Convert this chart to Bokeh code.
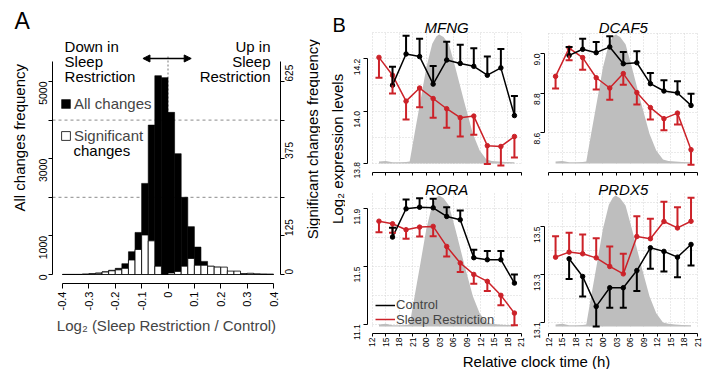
import math
from bokeh.plotting import figure
from bokeh.models import (Range1d, LinearAxis, FixedTicker, Span, Label, Arrow,
                          NormalHead, TeeHead, Whisker, ColumnDataSource, Legend, LegendItem)
from bokeh.layouts import row, column
from bokeh.embed import file_html
from bokeh.resources import INLINE

FONT = "Liberation Sans"
RED = "#CC2229"
GREY = "#BEBEBE"
GRID = "#D5D5D5"

# ---------------- Panel A data ----------------
bin_left = [-0.400, -0.375, -0.350, -0.325, -0.300, -0.275, -0.250, -0.225,
            -0.200, -0.175, -0.150, -0.125, -0.100, -0.075, -0.050, -0.025,
            0.000, 0.025, 0.050, 0.075, 0.100, 0.125, 0.150, 0.175,
            0.200, 0.225, 0.250, 0.275, 0.300, 0.325, 0.350, 0.375]
BIN_W = 0.025
all_changes = [5, 5, 5, 10, 20, 40, 70, 110, 160, 280, 590, 1090, 2360, 3870, 5150, 5100,
               4200, 3130, 2000, 1240, 710, 340, 210, 190, 110, 70, 35, 20, 20, 10, 10, 5]
significant_changes = [0, 0, 0, 1, 2, 4, 8, 12, 15, 20, 47, 81, 128, 109, 27, 0,
                       5, 10, 27, 52, 30, 30, 27, 24, 24, 11, 11, 2, 4, 2, 1, 1]
a_x_ticks = [-0.4, -0.3, -0.2, -0.1, 0.0, 0.1, 0.2, 0.3, 0.4]
a_x_labels = ["-0.4", "-0.3", "-0.2", "-0.1", "0", "0.1", "0.2", "0.3", "0.4"]
a_left_ticks = [0, 1000, 3000, 5000]
a_left_minor = [2000, 4000]
a_right_ticks = [0, 125, 375, 625]
a_right_minor = [250, 500]
a_guides = [2000, 4000]
SIG_SCALE = 625 / 5000

# ---------------- Panel B data ----------------
time_ticks = [12, 15, 18, 21, 24, 27, 30, 33, 36, 39, 42, 45]
time_labels = ["12", "15", "18", "21", "00", "03", "06", "09", "12", "15", "18", "21"]
sr_time = [13.5, 16.5, 19.5, 22.5, 25.5, 28.5, 31.5, 34.5, 37.5, 40.5, 43.5]
ctl_time = [16.5, 19.5, 22.5, 25.5, 28.5, 31.5, 34.5, 37.5, 40.5, 43.5]

mel_time = [13.5, 15.0, 16.5, 18.0, 19.5, 20.3, 21.4, 22.7, 24.0, 25.3, 26.2, 26.8,
            27.8, 29.0, 30.4, 32.3, 34.3, 35.8, 37.3, 38.5, 40.0, 41.5, 43.5]
mel_level = [0.015, 0.02, 0.01, 0.01, 0.012, 0.015, 0.23, 0.48, 0.735, 0.915, 0.97, 0.985,
             0.965, 0.91, 0.735, 0.48, 0.227, 0.10, 0.03, 0.02, 0.015, 0.012, 0.01]

mfng_sr = [14.205, 14.137, 14.038, 14.088, 14.048, 14.009, 13.975, 13.981, 13.868, 13.865, 13.903]
mfng_sr_sem = [0.078, 0.070, 0.070, 0.073, 0.073, 0.073, 0.072, 0.071, 0.070, 0.073, 0.080]
mfng_ctl = [14.099, 14.218, 14.208, 14.103, 14.195, 14.182, 14.171, 14.137, 14.165, 13.983]
mfng_ctl_sem = [0.070, 0.070, 0.068, 0.069, 0.070, 0.071, 0.069, 0.071, 0.072, 0.075]

dcaf5_sr = [8.885, 9.028, 8.980, 8.878, 8.826, 8.899, 8.803, 8.727, 8.671, 8.699, 8.514]
dcaf5_sr_sem = [0.062, 0.062, 0.061, 0.060, 0.059, 0.056, 0.060, 0.060, 0.059, 0.057, 0.076]
dcaf5_ctl = [8.991, 9.022, 9.005, 9.034, 8.949, 8.954, 8.848, 8.811, 8.801, 8.738]
dcaf5_ctl_sem = [0.043, 0.054, 0.054, 0.054, 0.059, 0.058, 0.054, 0.054, 0.059, 0.059]

rora_sr = [11.814, 11.796, 11.755, 11.773, 11.778, 11.639, 11.524, 11.445, 11.397, 11.300, 11.177]
rora_sr_sem = [0.076, 0.062, 0.063, 0.065, 0.068, 0.069, 0.062, 0.064, 0.067, 0.069, 0.085]
rora_ctl = [11.704, 11.900, 11.911, 11.907, 11.847, 11.824, 11.561, 11.547, 11.547, 11.385]
rora_ctl_sem = [0.064, 0.064, 0.062, 0.062, 0.064, 0.064, 0.055, 0.060, 0.060, 0.060]

prdx5_sr = [13.372, 13.393, 13.386, 13.369, 13.333, 13.302, 13.458, 13.449, 13.521, 13.494, 13.522]
prdx5_sr_sem = [0.087, 0.081, 0.081, 0.082, 0.083, 0.084, 0.085, 0.083, 0.083, 0.087, 0.098]
prdx5_ctl = [13.365, 13.291, 13.166, 13.244, 13.244, 13.316, 13.411, 13.396, 13.372, 13.425]
prdx5_ctl_sem = [0.084, 0.084, 0.084, 0.084, 0.084, 0.086, 0.088, 0.084, 0.084, 0.088]


def style_axis(ax, size, standoff, tick_out):
    ax.major_label_text_font = FONT
    ax.major_label_text_font_size = size
    ax.major_label_standoff = standoff
    ax.major_tick_out = tick_out
    ax.major_tick_in = 0
    ax.minor_tick_out = tick_out
    ax.minor_tick_in = 0
    ax.minor_tick_line_color = "black"
    ax.axis_line_color = "black"
    ax.major_tick_line_color = "black"
    ax.major_label_text_color = "black"
    ax.major_label_orientation = math.pi / 2


def text(p, x, y, s, size="15px", align="left", baseline="middle", angle=0, style="normal"):
    p.add_layout(Label(x=x, y=y, text=s, text_font=FONT, text_font_size=size,
                       text_align=align, text_baseline=baseline, angle=angle,
                       text_font_style=style, text_color="black"))


def strip(x0, x1, y0, y1):
    p = figure(width=x1 - x0, height=y1 - y0, output_backend="svg", toolbar_location=None,
               x_range=Range1d(x0, x1), y_range=Range1d(y1, y0),
               x_axis_location=None, y_axis_location=None, title_location=None,
               min_border_left=0, min_border_right=0, min_border_top=0, min_border_bottom=0,
               outline_line_color=None)
    p.grid.visible = False
    return p


# ================= Panel A =================
pA = figure(width=271, height=369, output_backend="svg", toolbar_location=None,
            x_range=Range1d(-0.4379, 0.4265), y_range=Range1d(-233, 6839),
            min_border_left=21, min_border_right=22, min_border_top=10, min_border_bottom=86,
            outline_line_color=None, title_location=None)
pA.extra_y_ranges = {"sig": Range1d(-233 * SIG_SCALE, 6839 * SIG_SCALE)}
pA.grid.visible = False

for g in a_guides:
    pA.add_layout(Span(location=g, dimension="width", line_color="#8A8A8A",
                       line_dash="3 3", line_width=1, level="underlay"))
pA.segment(x0=0, y0=0, x1=0, y1=5674, line_color="#777777", line_dash="2 2", line_width=1)

srcA = ColumnDataSource(dict(left=bin_left, right=[b + BIN_W for b in bin_left],
                             allc=all_changes, sig=significant_changes))
black_bars = pA.quad(left="left", right="right", bottom=0, top="allc", source=srcA,
                     fill_color="black", line_color="black", line_width=0.6)
white_bars = pA.quad(left="left", right="right", bottom=0, top="sig", source=srcA,
                     y_range_name="sig", fill_color="white", line_color="black", line_width=0.8)

xa = pA.below[0]
xa.ticker = FixedTicker(ticks=a_x_ticks)
xa.major_label_overrides = dict(zip(a_x_ticks, a_x_labels))
xa.bounds = (a_x_ticks[0], a_x_ticks[-1])
style_axis(xa, "11px", 3, 5)
xa.axis_label = "Log\u2082 (Sleep Restriction / Control)"
xa.axis_label_text_font = FONT
xa.axis_label_text_font_size = "15px"
xa.axis_label_text_font_style = "normal"
xa.axis_label_standoff = 4

ya = pA.left[0]
ya.ticker = FixedTicker(ticks=a_left_ticks, minor_ticks=a_left_minor)
ya.bounds = (0, 5520)
style_axis(ya, "10.5px", 5, 4)

ra = LinearAxis(y_range_name="sig", ticker=FixedTicker(ticks=a_right_ticks, minor_ticks=a_right_minor))
ra.bounds = (0, 5520 * SIG_SCALE)
style_axis(ra, "10px", 5, 4)
pA.add_layout(ra, "right")

pA.add_layout(Arrow(start=NormalHead(size=7, fill_color="black", line_color="black"),
                    end=NormalHead(size=7, fill_color="black", line_color="black"),
                    x_start=-0.095, y_start=5596, x_end=0.088, y_end=5596,
                    line_color="black", line_width=1.5))

for s, yc in [("Down in", 5907), ("Sleep", 5518), ("Restriction", 5130)]:
    text(pA, -0.392, yc, s)
for s, yc in [("Up in", 5907), ("Sleep", 5518), ("Restriction", 5130)]:
    text(pA, 0.3886, yc, s, align="right")

legA = Legend(items=[LegendItem(label="All changes", renderers=[black_bars]),
                     LegendItem(label="Significant", renderers=[white_bars])],
              location=(8, 139), orientation="vertical", padding=0, margin=0, spacing=15,
              glyph_width=11, glyph_height=11, label_height=11, label_standoff=3,
              label_text_font=FONT, label_text_font_size="15px",
              background_fill_alpha=0, border_line_alpha=0)
pA.add_layout(legA)
text(pA, -0.3583, 3200, "changes")

stripL = strip(0, 31, 0, 369)
text(stripL, 14, 14, "A", size="23px")
text(stripL, 19, 172, "All changes frequency", angle=math.pi / 2, align="center")

stripR = strip(302, 320, 0, 369)
text(stripR, 312, 174, "Significant changes frequency", align="center", angle=math.pi / 2)

# ================= Panel B =================
def gene_fig(name, width, height, bl, br, bt, bb, gap_top, gap_bot, x0, x1, ylo, yhi,
             yticks, ylabels, ygrid, sr, sr_sem, sr_dir, ctl, ctl_sem, ctl_dir,
             show_xlabels, y_standoff, title_dy):
    H = height - bt - bb
    px = (yhi - ylo) / (H - gap_top - gap_bot)
    p = figure(width=width, height=height, output_backend="svg", toolbar_location=None,
               x_range=Range1d(x0, x1),
               y_range=Range1d(ylo - gap_bot * px, yhi + gap_top * px),
               min_border_left=bl, min_border_right=br, min_border_top=bt, min_border_bottom=bb,
               outline_line_color=None, title_location=None)
    xa = p.below[0]
    xa.ticker = FixedTicker(ticks=time_ticks)
    xa.major_label_overrides = dict(zip(time_ticks, time_labels))
    xa.bounds = (time_ticks[0], time_ticks[-1])
    style_axis(xa, "8.5px" if show_xlabels else "1px", 1, 3)
    if not show_xlabels:
        xa.major_label_text_color = None
        xa.major_label_standoff = 0
    ya = p.left[0]
    ya.ticker = FixedTicker(ticks=yticks)
    ya.major_label_overrides = dict(zip(yticks, ylabels))
    ya.bounds = (yticks[0], yticks[-1])
    style_axis(ya, "8.5px", y_standoff, 4)

    p.xgrid.ticker = FixedTicker(ticks=time_ticks)
    p.xgrid.bounds = (time_ticks[0], time_ticks[-1])
    p.xgrid.cross_bounds = (ylo, yhi)
    p.ygrid.ticker = FixedTicker(ticks=ygrid)
    p.ygrid.bounds = (ygrid[0], ygrid[-1])
    p.ygrid.cross_bounds = (time_ticks[0], time_ticks[-1])
    for g in (p.xgrid, p.ygrid):
        g.grid_line_color = GRID
        g.grid_line_dash = "1 2"
        g.grid_line_width = 1

    p.varea(x=mel_time, y1=[ylo] * len(mel_time),
            y2=[ylo + m * (yhi - ylo) for m in mel_level], fill_color=GREY)

    def series(times, vals, sem, direction, color):
        ends = [v + direction * s for v, s in zip(vals, sem)]
        src = ColumnDataSource(dict(t=times, v=vals, e=ends))
        r = p.line("t", "v", source=src, line_color=color, line_width=1.5)
        p.scatter("t", "v", source=src, size=4.5, color=color, marker="circle")
        head = TeeHead(size=7, line_color=color, line_width=2)
        if direction > 0:
            w = Whisker(source=src, base="t", lower="v", upper="e", upper_head=head,
                        lower_head=None, line_color=color, line_width=2, level="annotation")
        else:
            w = Whisker(source=src, base="t", lower="e", upper="v", lower_head=head,
                        upper_head=None, line_color=color, line_width=2, level="annotation")
        p.add_layout(w)
        return r

    r_sr = series(sr_time, sr, sr_sem, sr_dir, RED)
    r_ctl = series(ctl_time, ctl, ctl_sem, ctl_dir, "black")
    text(p, 28.5, yhi + title_dy * px, name, size="15px", align="center", style="italic")
    return p, r_ctl, r_sr


TOP = dict(height=178, bt=14, bb=6, gap_top=18, gap_bot=9, title_dy=5.5)
BOT = dict(height=172, bt=0, bb=17, gap_top=15, gap_bot=7, title_dy=4.5)
LEFT = dict(width=181, bl=22, br=5, x0=10.959, x1=45.067, y_standoff=6)
RIGHT = dict(width=186, bl=18, br=13, x0=11.048, x1=45.378, y_standoff=3)

f1, _, _ = gene_fig("MFNG", ylo=13.8, yhi=14.3, yticks=[13.8, 14.0, 14.2],
                    ylabels=["13.8", "14.0", "14.2"], ygrid=[13.8, 13.9, 14.0, 14.1, 14.2, 14.3],
                    sr=mfng_sr, sr_sem=mfng_sr_sem, sr_dir=-1, ctl=mfng_ctl, ctl_sem=mfng_ctl_sem,
                    ctl_dir=1, show_xlabels=False, **TOP, **LEFT)
f2, _, _ = gene_fig("DCAF5", ylo=8.444, yhi=9.107, yticks=[8.6, 8.8, 9.0],
                    ylabels=["8.6", "8.8", "9.0"], ygrid=[8.5, 8.6, 8.7, 8.8, 8.9, 9.0, 9.1],
                    sr=dcaf5_sr, sr_sem=dcaf5_sr_sem, sr_dir=-1, ctl=dcaf5_ctl, ctl_sem=dcaf5_ctl_sem,
                    ctl_dir=1, show_xlabels=False, **TOP, **RIGHT)
f3, rc, rs = gene_fig("RORA", ylo=11.084, yhi=12.006, yticks=[11.1, 11.5, 11.9],
                      ylabels=["11.1", "11.5", "11.9"], ygrid=[11.1, 11.3, 11.5, 11.7, 11.9],
                      sr=rora_sr, sr_sem=rora_sr_sem, sr_dir=-1, ctl=rora_ctl, ctl_sem=rora_ctl_sem,
                      ctl_dir=1, show_xlabels=True, **BOT, **LEFT)
f4, _, _ = gene_fig("PRDX5", ylo=13.082, yhi=13.638, yticks=[13.1, 13.3, 13.5],
                    ylabels=["13.1", "13.3", "13.5"], ygrid=[13.1, 13.2, 13.3, 13.4, 13.5, 13.6],
                    sr=prdx5_sr, sr_sem=prdx5_sr_sem, sr_dir=1, ctl=prdx5_ctl, ctl_sem=prdx5_ctl_sem,
                    ctl_dir=-1, show_xlabels=True, **BOT, **RIGHT)

for lbl, rend, ypos in [("Control", rc, 21), ("Sleep Restriction", rs, 6.5)]:
    f3.add_layout(Legend(items=[LegendItem(label=lbl, renderers=[rend])],
                         location=(8, ypos), padding=0, margin=0, glyph_width=20,
                         glyph_height=12, label_height=12, label_standoff=1,
                         label_text_font=FONT, label_text_font_size="13px",
                         background_fill_alpha=0, border_line_alpha=0))

ylab = strip(320, 345, 0, 369)
text(ylab, 332, 20, "B", size="20px")
text(ylab, 337, 187, "Log\u2082 expression levels", align="center", angle=math.pi / 2)

xlab = strip(345, 712, 350, 369)
text(xlab, 536, 360.5, "Relative clock time (h)", align="center")

layout = row(stripL, pA, stripR, ylab, column(row(f1, f2), row(f3, f4), xlab))
open("out.html", "w").write(file_html(layout, INLINE))
